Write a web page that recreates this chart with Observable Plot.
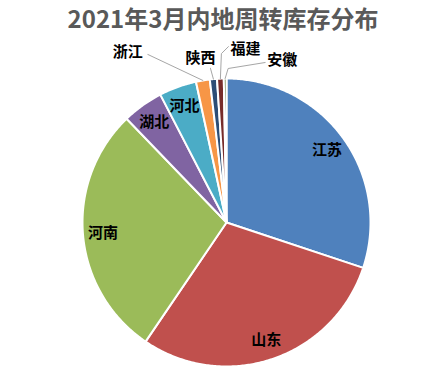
<!DOCTYPE html>
<html><head><meta charset="utf-8">
<script src="https://cdn.jsdelivr.net/npm/d3@7"></script>
<script src="https://cdn.jsdelivr.net/npm/@observablehq/plot@0.6"></script>
<style>
body{margin:0;background:#fff;}
#title{width:440px;height:36px;line-height:36px;text-align:center;padding-left:6px;box-sizing:border-box;font-family:"Noto Sans CJK SC",sans-serif;font-weight:bold;font-size:24px;color:#595959;white-space:nowrap;}
</style></head><body>
<div id="title">2021年3月内地周转库存分布</div>
<div id="chart"></div>
<script>
// Data
const provinces = ["江苏","山东","河南","湖北","河北","浙江","陕西","福建","安徽"];
const shares = [30.1,29.4,28.3,4.6,4.2,1.55,0.8,0.75,0.3];
const colors = ["#4F81BD","#C0504D","#9BBB59","#8064A2","#4BACC6","#F79646","#2C4D75","#772C2A","#5F7530"];
const insideLabels = ["江苏","山东","河南","湖北","河北"];
const calloutLabels = ["浙江","陕西","福建","安徽"];

// Layout for callouts (pixel offsets from slice edge point): text center, elbow, line end
const calloutLayout = {
  "浙江": {tx:-75, ty:-28, ex:-55, ey:-26, lx:-55, ly:-26},
  "陕西": {tx:-13, ty:-21, ex:-3, ey:-11, lx:-3, ly:-11},
  "福建": {tx:25, ty:-29, ex:1, ey:-25, lx:8, ly:-32},
  "安徽": {tx:57, ty:-18, ex:3, ey:-10, lx:40, ly:-16}
};

const k = 1/144; // data units per pixel
const arcs = d3.pie().sort(null).value(d => d)(shares);
const slices = provinces.map((p, i) => ({
  name: p, color: colors[i], a0: arcs[i].startAngle, a1: arcs[i].endAngle,
  mid: (arcs[i].startAngle + arcs[i].endAngle) / 2
}));

function slicePoints(s) {
  const n = Math.max(2, Math.ceil((s.a1 - s.a0) / 0.01));
  const out = [{x: 0, y: 0}];
  for (let j = 0; j <= n; j++) {
    const a = s.a0 + (s.a1 - s.a0) * j / n;
    out.push({x: Math.sin(a), y: Math.cos(a)});
  }
  out.push({x: 0, y: 0});
  return out;
}

const inside = slices.filter(s => insideLabels.includes(s.name)).map(s => ({
  name: s.name, x: 0.86 * Math.sin(s.mid), y: 0.86 * Math.cos(s.mid)
}));

const callouts = slices.filter(s => calloutLabels.includes(s.name)).map(s => {
  const L = calloutLayout[s.name];
  const ex = Math.sin(s.mid), ey = Math.cos(s.mid);
  return {
    name: s.name,
    tx: ex + L.tx * k, ty: ey - L.ty * k,
    line: [
      {x: ex, y: ey},
      {x: ex + L.ex * k, y: ey - L.ey * k},
      {x: ex + L.lx * k, y: ey - L.ly * k}
    ]
  };
});

const font = "'Noto Sans CJK SC', sans-serif";
const chart = Plot.plot({
  width: 440, height: 344,
  marginLeft: 82, marginRight: 70, marginTop: 42, marginBottom: 14,
  x: {axis: null, domain: [-1, 1]},
  y: {axis: null, domain: [-1, 1]},
  style: {fontFamily: font, background: "white"},
  marks: [
    ...slices.map(s => Plot.line(slicePoints(s), {
      x: "x", y: "y", fill: s.color, stroke: "white", strokeWidth: 2, strokeLinejoin: "round"
    })),
    ...callouts.map(c => Plot.line(c.line, {x: "x", y: "y", stroke: "#a6a6a6", strokeWidth: 1})),
    Plot.text(inside, {x: "x", y: "y", text: "name", fontSize: 15, fontWeight: "bold", fill: "black", fontFamily: font}),
    Plot.text(callouts, {x: "tx", y: "ty", text: "name", fontSize: 15, fontWeight: "bold", fill: "black", fontFamily: font})
  ]
});
document.getElementById("chart").appendChild(chart);
</script>
</body></html>
